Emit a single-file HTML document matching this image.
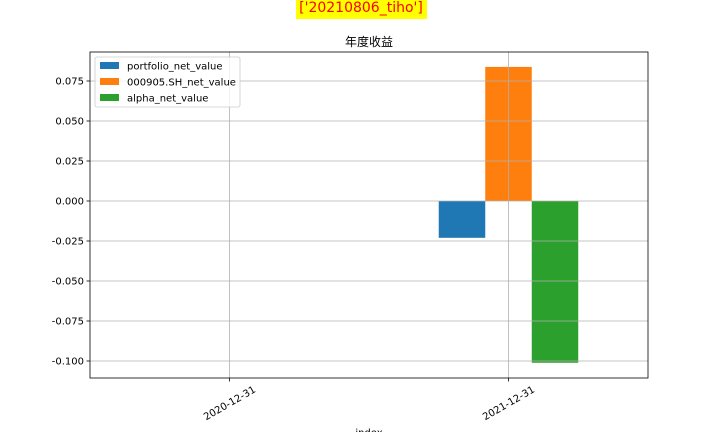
<!DOCTYPE html>
<html><head><meta charset="utf-8"><style>
body{margin:0;background:#fff;}
svg text{font-family:"DejaVu Sans","Liberation Sans","Noto Sans CJK SC",sans-serif;}
</style></head><body>
<svg id="chart" width="720" height="432" viewBox="0 0 720 432" xmlns="http://www.w3.org/2000/svg">
<rect x="296" y="-4" width="131" height="23" fill="#ffff00"/>
<text x="361" y="12" font-size="14" fill="#ff0000" text-anchor="middle">['20210806_tiho']</text>
<text x="369" y="46" font-size="12" text-anchor="middle" fill="#000">年度收益</text>
<g id="bars"></g>
<g id="grid"></g>
<g id="axes"></g>
<g id="legend"></g>
</svg>
<script>
const categories=["2020-12-31","2021-12-31"];
const seriesNames=["portfolio_net_value","000905.SH_net_value","alpha_net_value"];
const portfolio=[0,-0.023];
const bench=[0,0.0838];
const alpha=[0,-0.1011];
const yTicks=[0.075,0.05,0.025,0,-0.025,-0.05,-0.075,-0.1];
const colors=["#1f77b4","#ff7f0e","#2ca02c"];
const NS="http://www.w3.org/2000/svg";
const L=90,R=648,T=52,B=378;
const xScale=i=>L+(i+0.5)*(R-L)/2;
const yScale=v=>201-v*1600;
function mk(tag,attrs,parent,text){const e=document.createElementNS(NS,tag);for(const k in attrs)e.setAttribute(k,attrs[k]);if(text!==undefined)e.textContent=text;parent.appendChild(e);return e;}
const grid=document.getElementById('grid'),bars=document.getElementById('bars'),axes=document.getElementById('axes'),leg=document.getElementById('legend');
yTicks.forEach(v=>{const y=yScale(v);
 const g=mk('line',{x1:L,x2:R,y1:y,y2:y,stroke:'#b0b0b0','stroke-width':0.8},grid);
 
 
 mk('line',{x1:L-3.5,x2:L,y1:y,y2:y,stroke:'#000','stroke-width':0.8},axes);
 const t=mk('text',{x:L-6,y:y+3.5,'font-size':10,'text-anchor':'end',fill:'#000'},axes,v.toFixed(3));
 
 
});
categories.forEach((c,i)=>{const x=xScale(i);
 const g=mk('line',{x1:x,x2:x,y1:T,y2:B,stroke:'#b0b0b0','stroke-width':0.8},grid);
 
 
 mk('line',{x1:x,x2:x,y1:B,y2:B+3.5,stroke:'#000','stroke-width':0.8},axes);
 const cy=B+25;
 const t=mk('text',{x:x,y:cy+3.5,'font-size':10,'text-anchor':'middle',fill:'#000',transform:`rotate(-30 ${x} ${cy})`},axes,c);
 
 
});
const series=[portfolio,bench,alpha];
const bw=(R-L)/2/6;
series.forEach((s,si)=>{s.forEach((v,i)=>{
 const x=xScale(i)+(si-1.5)*bw;const y0=yScale(0),y1=yScale(v);
 const r=mk('rect',{x:x,y:Math.min(y0,y1),width:bw,height:Math.abs(y1-y0),fill:colors[si]},bars);
 
 
});});
const fr=mk('rect',{x:L,y:T,width:R-L,height:B-T,fill:'none',stroke:'#000','stroke-width':0.8},axes);


const xl=mk('text',{x:369,y:436,'font-size':10,'text-anchor':'middle',fill:'#000'},axes,'index');


mk('rect',{x:95,y:57,width:145,height:50,fill:'#fff','fill-opacity':0.8,stroke:'#ccc','stroke-width':0.8,rx:2},leg);
seriesNames.forEach((n,i)=>{const y=66+i*16;
 const sw=mk('rect',{x:100,y:y-4,width:19,height:7,fill:colors[i]},leg);
 
 
 const t=mk('text',{x:127,y:y+3.5,'font-size':10,fill:'#000'},leg,n);
 
 
});
</script>
</body></html>
